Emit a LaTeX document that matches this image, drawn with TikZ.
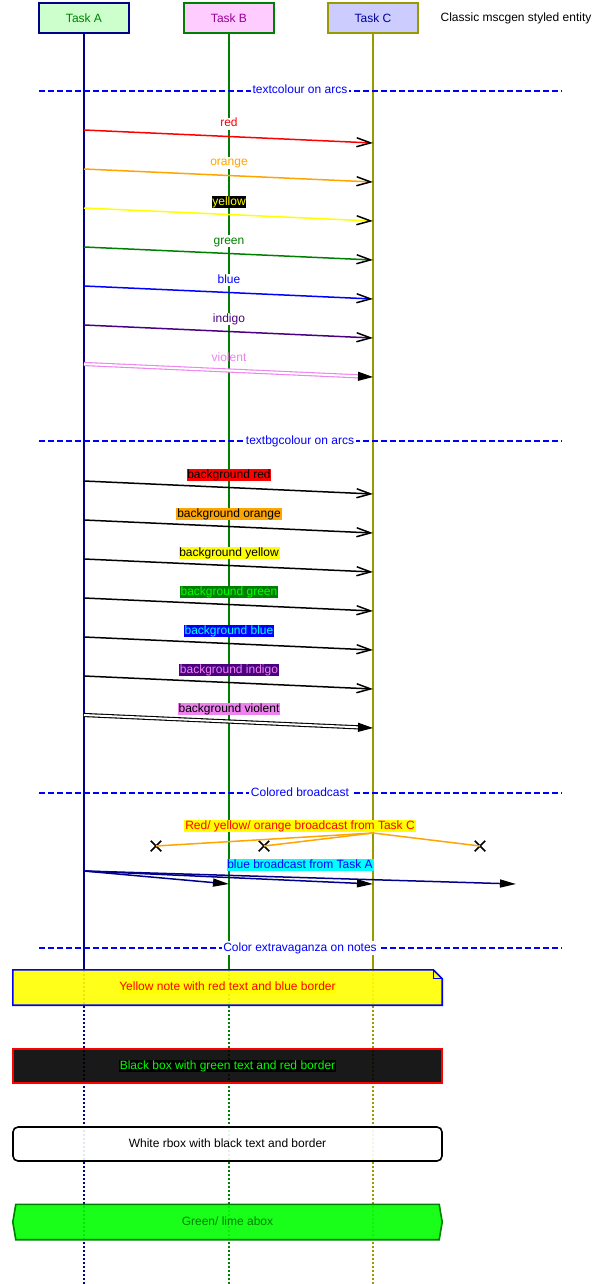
\documentclass[tikz,border=0pt]{standalone}
\usepackage{fontspec}
\setmainfont{Liberation Sans}
\usetikzlibrary{arrows.meta,shapes.misc}

\definecolor{lineA}{HTML}{00008B}
\definecolor{lineB}{HTML}{008000}
\definecolor{lineC}{HTML}{999900}
\definecolor{fillA}{HTML}{CCFFCC}
\definecolor{fillB}{HTML}{FFCCFF}
\definecolor{fillC}{HTML}{CCCCFF}
\definecolor{textB}{HTML}{990099}
\definecolor{textC}{HTML}{000099}
\definecolor{mscred}{HTML}{FF0000}
\definecolor{mscorange}{HTML}{FFA500}
\definecolor{mscyellow}{HTML}{FFFF00}
\definecolor{mscgreen}{HTML}{008000}
\definecolor{msclime}{HTML}{00FF00}
\definecolor{mscblue}{HTML}{0000FF}
\definecolor{msccyan}{HTML}{00FFFF}
\definecolor{mscindigo}{HTML}{4B0082}
\definecolor{mscviolet}{HTML}{EE82EE}

\tikzset{
  entity/.style={draw, line width=1.8pt, minimum width=90pt, minimum height=30pt},
  arc/.style={line width=1.5pt, -{Straight Barb[length=14pt,width=9pt,color=black]}},
  dblarc/.style={line width=1.1pt, double=white, double distance=2pt, -{Triangle[length=15pt,width=9pt,color=black]}},
  bcast/.style={lineA, line width=1.5pt, -{Triangle[length=16pt,width=8pt,color=black]}},
  sep/.style={mscblue, line width=1.3pt, dash pattern=on 6pt off 3pt},
  seplabel/.style={fill=white, text=mscblue, inner sep=1.5pt, text height=8.5pt, text depth=2.5pt},
  arclabel/.style={inner sep=0.8pt, text height=8.5pt, text depth=2.5pt},
  lost/.style={cross out, draw=black, line width=1.5pt, minimum size=9pt, inner sep=0pt},
  notebody/.style={minimum width=429pt, minimum height=35pt, inner sep=0pt},
}

\begin{document}
\begin{tikzpicture}[x=1pt, y=-1pt, font=\fontsize{12}{14}\selectfont]
\useasboundingbox (0,0) rectangle (606,1284);

% Entities
\node[entity, draw=lineA, fill=fillA, text=lineB] (A) at (84,18) {Task A};
\node[entity, draw=lineB, fill=fillB, text=textB] (B) at (229,18) {Task B};
\node[entity, draw=lineC, fill=fillC, text=textC] (C) at (373,18) {Task C};
\node (D) at (516,18) {Classic mscgen styled entity};

% Lifelines
\foreach \e/\col in {A/lineA, B/lineB, C/lineC}{
    \coordinate (\e mid) at (\e |- 0,970);
    \coordinate (\e end) at (\e |- 0,1284);
    \draw[\col, line width=1.6pt] (\e.south) -- (\e mid);
    \draw[\col, line width=1.6pt, dash pattern=on 2pt off 2pt] (\e mid) -- (\e end);
}

% Separators
\foreach \y/\txt in {91/textcolour on arcs, 441/textbgcolour on arcs, 793/Colored broadcast, 948/Color extravaganza on notes}{
    \draw[sep] (39,\y) -- (562,\y);
    \node[seplabel] at (300,\y) {\txt};
}

% textcolour on arcs
\foreach \y/\col/\bg/\lbl [count=\i] in {130/mscred/white/red, 169/mscorange/white/orange, 208/mscyellow/black/yellow, 247/mscgreen/white/green, 286/mscblue/white/blue, 325/mscindigo/white/indigo}{
    \pgfmathsetmacro\ye{\y+13}
    \coordinate (ts\i) at (A |- 0,\y);
    \coordinate (te\i) at (C |- 0,\ye);
    \draw[arc, \col] (ts\i) -- (te\i);
    \node[arclabel, text=\col, fill=\bg] at (B |- 0,\y-6) {\lbl};
}
\coordinate (ts7) at (A |- 0,364);
\coordinate (te7) at (C |- 0,377);
\draw[dblarc, mscviolet] (ts7) -- (te7);
\node[arclabel, text=mscviolet] at (B |- 0,358) {violent};

% textbgcolour on arcs
\foreach \y/\bg/\col/\lbl [count=\i] in {481/mscred/black/background red, 520/mscorange/black/background orange, 559/mscyellow/black/background yellow, 598/mscgreen/msclime/background green, 637/mscblue/msccyan/background blue, 676/mscindigo/mscviolet/background indigo}{
    \pgfmathsetmacro\ye{\y+13}
    \coordinate (bs\i) at (A |- 0,\y);
    \coordinate (be\i) at (C |- 0,\ye);
    \draw[arc, black] (bs\i) -- (be\i);
    \node[arclabel, text=\col, fill=\bg] at (B |- 0,\y-6) {\lbl};
}
\coordinate (bs7) at (A |- 0,715);
\coordinate (be7) at (C |- 0,728);
\draw[dblarc, black] (bs7) -- (be7);
\node[arclabel, fill=mscviolet] at (B |- 0,709) {background violent};

% Colored broadcast
\coordinate (bcC) at (C |- 0,833);
\node[lost] (x1) at (156,846) {};
\node[lost] (x2) at (264,846) {};
\node[lost] (x3) at (480,846) {};
\foreach \x in {x1, x2, x3}{
    \draw[mscorange, line width=1.5pt] (bcC) -- (\x.center);
}
\node[arclabel, text=mscred, fill=mscyellow] at (300,826) {Red/ yellow/ orange broadcast from Task C};

\coordinate (bcA) at (A |- 0,871);
\coordinate (bcB) at (B |- 0,884);
\coordinate (bcC2) at (C |- 0,884);
\coordinate (bcD) at (D |- 0,884);
\draw[bcast] (bcA) -- (bcB);
\draw[bcast] (bcA) -- (bcC2);
\draw[bcast] (bcA) -- (bcD);
\node[arclabel, text=mscblue, fill=msccyan] at (300,865) {blue broadcast from Task A};

% Notes
\node[notebody] (note) at (227.5,987.5) {};
\filldraw[draw=mscblue, fill=mscyellow, fill opacity=0.9, line width=1.6pt]
    (note.north west) -- ([xshift=-9pt]note.north east) -- ([yshift=-9pt]note.north east)
    -- (note.south east) -- (note.south west) -- cycle;
\draw[mscblue, line width=1.3pt] ([xshift=-9pt]note.north east) |- ([yshift=-9pt]note.north east);
\node[arclabel, text=mscred, fill=mscyellow] at (note) {Yellow note with red text and blue border};

\node[notebody, minimum height=34pt, draw=mscred, fill=black, fill opacity=0.9, line width=1.6pt] (bbox) at (227.5,1066) {};
\node[arclabel, text=msclime, fill=black] at (bbox) {Black box with green text and red border};

\node[notebody, minimum height=34pt, draw=black, fill=white, fill opacity=0.9, line width=1.6pt, rounded corners=5pt] (rbox) at (227.5,1144) {};
\node[arclabel] at (rbox) {White rbox with black text and border};

\node[notebody, minimum width=423pt] (abox) at (227.5,1222) {};
\filldraw[draw=mscgreen, fill=msclime, fill opacity=0.9, line width=1.6pt]
    (abox.north west) -- (abox.north east) -- ([xshift=3pt]abox.east) -- (abox.south east)
    -- (abox.south west) -- ([xshift=-3pt]abox.west) -- cycle;
\node[arclabel, text=mscgreen] at (abox) {Green/ lime abox};

\end{tikzpicture}
\end{document}
